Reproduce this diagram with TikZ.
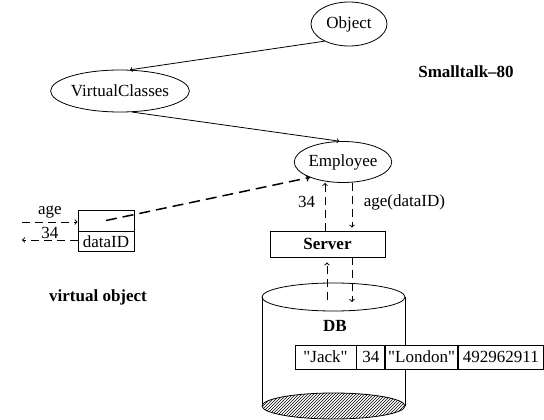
\documentclass[tikz,border=0pt]{standalone}
\usepackage{fontspec}
\setmainfont{Liberation Serif}
\usetikzlibrary{positioning, shapes.geometric, patterns}

\begin{document}
\begin{tikzpicture}[x=1pt, y=-1pt, font=\fontsize{17pt}{20pt}\selectfont,
		cls/.style={draw, ellipse, inner sep=0pt, line width=.8pt},
		box/.style={draw, inner sep=0pt, line width=.8pt},
		cell/.style={draw, fill=white, minimum height=24pt, inner sep=0pt, line width=.8pt},
		msg/.style={->, line width=1pt, dash pattern=on 8pt off 5pt},
		bold/.style={font=\fontsize{17pt}{20pt}\selectfont\bfseries}]
			\useasboundingbox (0,0) rectangle (544,420);
			\node[cls, minimum width=76pt, minimum height=44pt] (obj) at (349,24) {Object};
			\node[cls, minimum width=116pt, minimum height=42pt] (vc) at (120,91) {VirtualClasses};
			\node[cls, minimum width=96pt, minimum height=41pt] (emp) at (343,162) {Employee};
			\node[bold] (st) at (466,72) {Smalltalk--80};
			\draw[->, line width=.8pt] (obj.215) -- (vc.65);
			\draw[->, line width=.8pt] (vc.-60) -- (emp.100);
			\node[box, minimum width=56pt, minimum height=21pt] (vtop) at (106,220.5) {};
			\node[box, minimum width=56pt, minimum height=20pt, below=0pt of vtop] (vid) {dataID};
			\node[bold] (vlbl) at (98,297) {virtual object};
			\coordinate (agein) at (22,222);
			\coordinate (ageout) at (22,240);
			\draw[msg] (agein) -- (agein -| vtop.west) node[midway, above] {age};
			\draw[msg] (ageout -| vid.west) -- (ageout) node[midway, above, inner sep=1pt] {34};
			\draw[->, line width=1.5pt, dash pattern=on 11pt off 6pt] (vtop.center) -- (emp.205);
			\node[box, bold, minimum width=115pt, minimum height=26pt] (srv) at (327.5,244) {Server};
			\coordinate (up) at (325,0);
			\coordinate (dn) at (352,0);
			\draw[msg] (srv.north -| up) -- (emp.south -| up) node[pos=.6, left=6pt] {34};
			\draw[msg, shorten >=3pt] (emp.south -| dn) -- (srv.north -| dn) node[pos=.4, right=8pt] {age(dataID)};
			\draw[line width=.8pt] (262,297) -- (262,406);
			\draw[line width=.8pt] (405,297) -- (405,406);
			\draw[line width=.8pt] (333.5,297) ellipse (71.5pt and 14pt);
			\draw[line width=.8pt, pattern=north east lines] (333.5,406) ellipse (71.5pt and 13pt);
			\node[bold] (db) at (335,326) {DB};
			\coordinate (dbup) at (327,300);
			\coordinate (dbdn) at (352,302);
			\draw[msg, shorten >=5pt] (dbup) -- (dbup |- srv.south);
			\draw[msg] (dbdn |- srv.south) -- (dbdn);
			\node[cell, minimum width=61pt] (jack) at (325.5,357) {\textquotedbl Jack\textquotedbl};
			\node[cell, minimum width=28pt, right=0pt of jack] (agecell) {34};
			\node[cell, minimum width=72pt, right=0pt of agecell] (town) {\textquotedbl London\textquotedbl};
			\node[cell, minimum width=85pt, right=0pt of town] (phone) {492962911};
		\end{tikzpicture}
\end{document}
